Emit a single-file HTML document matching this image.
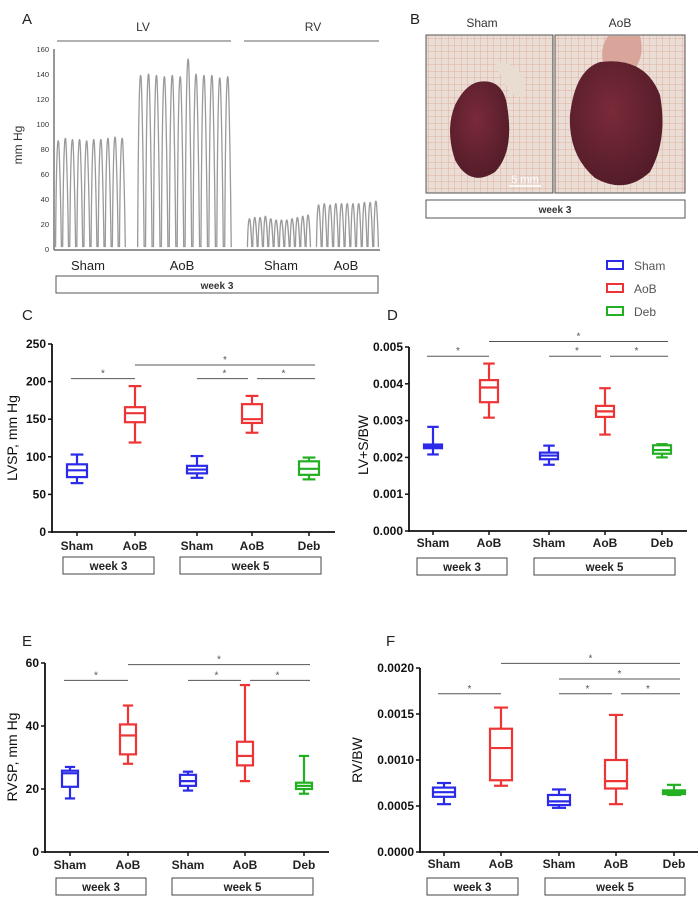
<!DOCTYPE html>
<html><head><meta charset="utf-8"><style>
html,body{margin:0;padding:0;background:#fff}
svg{display:block;font-family:"Liberation Sans",Arial,sans-serif}
</style></head><body>
<svg id="fig" width="700" height="905" viewBox="0 0 700 905" xmlns="http://www.w3.org/2000/svg">
<g id="panelA">
<text x="22" y="24" font-size="15" fill="#222">A</text>
<text x="143" y="31" font-size="12" fill="#333" text-anchor="middle">LV</text>
<line x1="57" y1="41" x2="231" y2="41" stroke="#999" stroke-width="1.5"/>
<text x="313" y="31" font-size="12" fill="#333" text-anchor="middle">RV</text>
<line x1="244" y1="41" x2="379" y2="41" stroke="#999" stroke-width="1.5"/>
<text transform="translate(22,145) rotate(-90)" font-size="12" fill="#333" text-anchor="middle">mm Hg</text>
<text x="88" y="270" font-size="13" fill="#222" text-anchor="middle">Sham</text>
<text x="182" y="270" font-size="13" fill="#222" text-anchor="middle">AoB</text>
<text x="281" y="270" font-size="13" fill="#222" text-anchor="middle">Sham</text>
<text x="346" y="270" font-size="13" fill="#222" text-anchor="middle">AoB</text>
<rect x="56" y="276" width="322" height="17" fill="none" stroke="#555" stroke-width="1"/>
<text x="217" y="289" font-size="10" font-weight="bold" fill="#333" text-anchor="middle">week 3</text>
</g>
<g id="panelB">
<defs>
<pattern id="grid" width="6.5" height="6.5" patternUnits="userSpaceOnUse"><rect width="6.5" height="6.5" fill="#e9ddd6"/><path d="M6.5 0V6.5M0 6.5H6.5" stroke="#e0a58c" stroke-width="0.8"/></pattern>
<radialGradient id="heart" cx="0.45" cy="0.4" r="0.7"><stop offset="0" stop-color="#7a2a3a"/><stop offset="1" stop-color="#4e1a26"/></radialGradient>
</defs>
<text x="410" y="24" font-size="15" fill="#222">B</text>
<text x="482" y="27" font-size="12" fill="#333" text-anchor="middle">Sham</text>
<text x="620" y="27" font-size="12" fill="#333" text-anchor="middle">AoB</text>
<g>
<rect x="426" y="35" width="127" height="158" fill="url(#grid)" stroke="#555"/>
<path d="M495 65 Q505 58 520 72 Q530 88 522 98 L510 92 Z" fill="#e8ddd0"/>
<path d="M478 82 Q500 78 506 100 Q516 150 495 172 Q470 188 455 160 Q445 130 455 105 Q465 85 478 82 Z" fill="url(#heart)"/>
<line x1="509" y1="186" x2="541" y2="186" stroke="#fff" stroke-width="1.5"/>
<text x="525" y="183" font-size="11" fill="#fff" text-anchor="middle">5 mm</text>
</g>
<g>
<rect x="555" y="35" width="130" height="158" fill="url(#grid)" stroke="#555"/>
<path d="M608 36 L640 36 Q645 55 635 68 L605 70 Q598 50 608 36 Z" fill="#d9a49a"/>
<path d="M600 62 Q645 56 660 95 Q668 140 650 172 Q625 195 595 178 Q568 155 570 115 Q575 70 600 62 Z" fill="url(#heart)"/>
</g>
<rect x="426" y="200" width="259" height="18" fill="none" stroke="#555"/>
<text x="555" y="213" font-size="10" font-weight="bold" fill="#333" text-anchor="middle">week 3</text>
</g>
<g id="legend">
<g><rect x="607" y="261" width="16" height="8" fill="none" stroke="#2a2ae8" stroke-width="2"/><text x="634" y="270" font-size="12" fill="#555">Sham</text></g>
<g><rect x="607" y="284" width="16" height="8" fill="none" stroke="#ee3535" stroke-width="2"/><text x="634" y="293" font-size="12" fill="#555">AoB</text></g>
<g><rect x="607" y="307" width="16" height="8" fill="none" stroke="#22b022" stroke-width="2"/><text x="634" y="316" font-size="12" fill="#555">Deb</text></g>
</g>
</svg>
<script>
// ---- Panel A trace data (peak pressures per beat) ----
const aTicks = [0,20,40,60,80,100,120,140,160];
const lvShamPeaks = [86,88,87,87,86,87,87,88,89,88];
const lvAobPeaks = [138,139,138,137,138,137,151,139,138,138,136,137];
const rvShamPeaks = [24,25,25,26,24,23,23,23,24,25,26,27];
const rvAobPeaks = [35,36,35,36,36,36,36,36,37,37,38];

// ---- Box plot data: [whiskerLow, q1, median, q3, whiskerHigh] ----
const categories = ["Sham","AoB","Sham","AoB","Deb"];
const cTicks = [0,50,100,150,200,250];
const cShamW3 = [65,73,82,90,103];
const cAobW3 = [119,146,158,166,194];
const cShamW5 = [72,78,83,88,101];
const cAobW5 = [132,145,150,170,181];
const cDeb = [70,76,84,94,99];
const cSig = [[0,1,204],[1,4,222],[2,3,204],[3,4,204]];

const dTicks = [0,0.001,0.002,0.003,0.004,0.005];
const dTickLabels = ["0.000","0.001","0.002","0.003","0.004","0.005"];
const dShamW3 = [0.00208,0.00225,0.0023,0.00235,0.00283];
const dAobW3 = [0.00308,0.0035,0.0039,0.0041,0.00455];
const dShamW5 = [0.0018,0.00195,0.00205,0.00213,0.00232];
const dAobW5 = [0.00262,0.0031,0.00325,0.0034,0.00388];
const dDeb = [0.002,0.0021,0.0022,0.00233,0.00236];
const dSig = [[0,1,0.00475],[1,4,0.00515],[2,3,0.00475],[3,4,0.00475]];

const eTicks = [0,20,40,60];
const eShamW3 = [17,20.7,25,25.8,27];
const eAobW3 = [28,31,37,40.5,46.5];
const eShamW5 = [19.5,21,22.5,24.5,25.5];
const eAobW5 = [22.5,27.5,30.5,35,53];
const eDeb = [18.5,20,21,22,30.5];
const eSig = [[0,1,54.5],[1,4,59.5],[2,3,54.5],[3,4,54.5]];

const fTicks = [0,0.0005,0.001,0.0015,0.002];
const fTickLabels = ["0.0000","0.0005","0.0010","0.0015","0.0020"];
const fShamW3 = [0.00052,0.0006,0.00065,0.0007,0.00075];
const fAobW3 = [0.00072,0.00078,0.00113,0.00134,0.00157];
const fShamW5 = [0.00048,0.00051,0.00055,0.00062,0.00068];
const fAobW5 = [0.00052,0.00069,0.00077,0.001,0.00149];
const fDeb = [0.00062,0.00063,0.00065,0.00067,0.00073];
const fSig = [[0,1,0.00172],[1,4,0.00205],[2,4,0.00188],[2,3,0.00172],[3,4,0.00172]];

const colors = ["#2a2ae8","#ee3535","#2a2ae8","#ee3535","#22b022"];
const NS = "http://www.w3.org/2000/svg";
const svg = document.getElementById('fig');
function mk(tag, attrs, parent, text){
  const e = document.createElementNS(NS, tag);
  for (const k in attrs) e.setAttribute(k, attrs[k]);
  if (text !== undefined) e.textContent = text;
  (parent||svg).appendChild(e);
  return e;
}

// ---- Panel A ----
(function(){
  const g = document.getElementById('panelA');
  const y = v => 249 - v*200/160;
  const ax = mk('g', {}, g);
  
  
  mk('line', {x1:54,y1:y(160),x2:54,y2:250,stroke:"#555","stroke-width":1.2}, ax);
  mk('line', {x1:54,y1:250,x2:380,y2:250,stroke:"#555","stroke-width":1.2}, ax);
  aTicks.forEach(t => {
    const tx = mk('text', {x:49,y:y(t)+3,"font-size":7.5,"text-anchor":"end",fill:"#333"}, ax, String(t));
    
    
  });
  function trace(peaks, x0, x1, name){
    const step = (x1-x0)/peaks.length;
    let d = "M"+x0+" "+y(2);
    peaks.forEach((p,i) => {
      const c = x0 + step*(i+0.5);
      d += " L"+(c-step*0.42)+" "+y(2)+" C"+(c-step*0.3)+" "+y(p)+" "+(c-step*0.1)+" "+y(p*1.03)+" "+c+" "+y(p);
      d += " C"+(c+step*0.1)+" "+y(p*0.97)+" "+(c+step*0.3)+" "+y(p*0.5)+" "+(c+step*0.4)+" "+y(2);
    });
    d += " L"+x1+" "+y(2);
    const pth = mk('path', {d:d,fill:"none",stroke:"#9a9a9a","stroke-width":1.3}, g);
    
    
  }
  trace(lvShamPeaks, 55, 126, 'lv-sham-trace');
  trace(lvAobPeaks, 137, 232, 'lv-aob-trace');
  trace(rvShamPeaks, 247, 311, 'rv-sham-trace');
  trace(rvAobPeaks, 316, 379, 'rv-aob-trace');
})();

// ---- Box panels ----
function panel(cfg){
  const g = mk('g', {});
  
  
  const y = v => cfg.y0 - v*(cfg.y0-cfg.yTop)/cfg.yMax;
  const lbl = mk('text', {x:cfg.lx,y:cfg.ly,"font-size":15,fill:"#222"}, g, cfg.letter);
  
  
  const yt = mk('text', {transform:"translate("+cfg.ytx+","+cfg.yty+") rotate(-90)","font-size":14,fill:"#111","text-anchor":"middle"}, g, cfg.ytitle);
  
  
  mk('line', {x1:cfg.ax,y1:cfg.yTop,x2:cfg.ax,y2:cfg.y0+1,stroke:"#111","stroke-width":1.8}, g);
  mk('line', {x1:cfg.ax-1,y1:cfg.y0,x2:cfg.axEnd,y2:cfg.y0,stroke:"#111","stroke-width":1.8}, g);
  cfg.ticks.forEach((t,i) => {
    mk('line', {x1:cfg.ax-4,y1:y(t),x2:cfg.ax,y2:y(t),stroke:"#111","stroke-width":1.5}, g);
    const tx = mk('text', {x:cfg.ax-6,y:y(t)+4,"font-size":12,"font-weight":"bold","text-anchor":"end",fill:"#111"}, g, cfg.tickLabels ? cfg.tickLabels[i] : String(t));
    
    
  });
  cfg.data.forEach((d,i) => {
    const cx = cfg.cx[i], hw = cfg.bw/2, cw = cfg.bw*0.32, col = colors[i];
    mk('line', {x1:cx,y1:cfg.y0,x2:cx,y2:cfg.y0+4,stroke:"#111","stroke-width":1.5}, g);
    const cl = mk('text', {x:cx,y:cfg.catY,"font-size":12,"font-weight":"bold","text-anchor":"middle",fill:"#222"}, g, categories[i]);
    
    
    const bg = mk('g', {stroke:col,"stroke-width":2.2,fill:"none"}, g);
    
    
    mk('line', {x1:cx,y1:y(d[0]),x2:cx,y2:y(d[1])}, bg);
    mk('line', {x1:cx,y1:y(d[3]),x2:cx,y2:y(d[4])}, bg);
    mk('line', {x1:cx-cw,y1:y(d[0]),x2:cx+cw,y2:y(d[0])}, bg);
    mk('line', {x1:cx-cw,y1:y(d[4]),x2:cx+cw,y2:y(d[4])}, bg);
    mk('rect', {x:cx-hw,y:y(d[3]),width:cfg.bw,height:Math.max(1,y(d[1])-y(d[3]))}, bg);
    mk('line', {x1:cx-hw,y1:y(d[2]),x2:cx+hw,y2:y(d[2])}, bg);
  });
  cfg.sig.forEach(s => {
    const x1 = cfg.cx[s[0]] - (s[0]===0 ? 6 : 0), x2 = cfg.cx[s[1]] + (s[1]===4 ? 6 : 0);
    const yy = y(s[2]);
    const sg = mk('g', {}, g);
    
    
    mk('line', {x1:x1+(s[0]===3?5:0),y1:yy,x2:x2-(s[1]===3?4:0),y2:yy,stroke:"#555","stroke-width":1}, sg);
    mk('text', {x:(x1+x2)/2,y:yy-2,"font-size":10,"text-anchor":"middle",fill:"#555"}, sg, "*");
  });
  cfg.weeks.forEach(w => {
    const wb = mk('g', {}, g);
    
    
    mk('rect', {x:w[0],y:cfg.wy,width:w[1]-w[0],height:17,fill:"none",stroke:"#444","stroke-width":1}, wb);
    mk('text', {x:(w[0]+w[1])/2,y:cfg.wy+13,"font-size":11.5,"font-weight":"bold","text-anchor":"middle",fill:"#222"}, wb, w[2]);
  });
}

panel({name:'panel-c',letter:'C',lx:22,ly:320,ytitle:'LVSP, mm Hg',ytx:17,yty:438,
  ax:52,axEnd:335,y0:532,yTop:344,yMax:250,ticks:cTicks,cx:[77,135,197,252,309],bw:20,
  data:[cShamW3,cAobW3,cShamW5,cAobW5,cDeb],sig:cSig,catY:550,wy:557,
  weeks:[[63,154,'week 3'],[180,321,'week 5']]});
panel({name:'panel-d',letter:'D',lx:387,ly:320,ytitle:'LV+S/BW',ytx:368,yty:445,
  ax:409,axEnd:687,y0:531,yTop:347,yMax:0.005,ticks:dTicks,tickLabels:dTickLabels,cx:[433,489,549,605,662],bw:18,
  data:[dShamW3,dAobW3,dShamW5,dAobW5,dDeb],sig:dSig,catY:547,wy:558,
  weeks:[[417,507,'week 3'],[534,675,'week 5']]});
panel({name:'panel-e',letter:'E',lx:22,ly:646,ytitle:'RVSP, mm Hg',ytx:17,yty:757,
  ax:45,axEnd:329,y0:852,yTop:663,yMax:60,ticks:eTicks,cx:[70,128,188,245,304],bw:16,
  data:[eShamW3,eAobW3,eShamW5,eAobW5,eDeb],sig:eSig,catY:869,wy:878,
  weeks:[[56,146,'week 3'],[172,313,'week 5']]});
panel({name:'panel-f',letter:'F',lx:386,ly:646,ytitle:'RV/BW',ytx:362,yty:760,
  ax:420,axEnd:698,y0:852,yTop:668,yMax:0.002,ticks:fTicks,tickLabels:fTickLabels,cx:[444,501,559,616,674],bw:22,
  data:[fShamW3,fAobW3,fShamW5,fAobW5,fDeb],sig:fSig,catY:868,wy:878,
  weeks:[[427,518,'week 3'],[545,685,'week 5']]});
</script>
</body></html>
